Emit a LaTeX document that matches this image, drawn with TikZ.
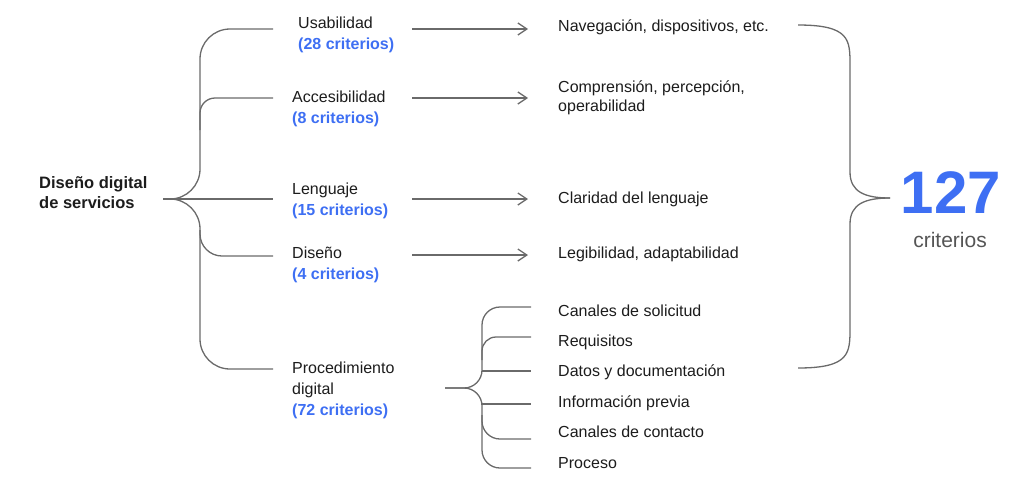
\documentclass[tikz,border=0pt]{standalone}
\usepackage{fontspec}
\setmainfont{Liberation Sans}
\usetikzlibrary{arrows.meta,positioning}
\definecolor{critblue}{HTML}{3E6FF3}
\definecolor{linegray}{HTML}{6A6A6A}
\definecolor{txtdark}{HTML}{1C1C1C}
\definecolor{txtgray}{HTML}{555555}
\tikzset{
  brace/.style={draw=linegray, line width=1.3pt},
  arr/.style={draw=linegray, line width=1.3pt, -{Straight Barb[length=9pt,width=12pt]}},
  cat/.style={anchor=west, align=left, inner sep=0pt, text=txtdark, font=\fontsize{16}{21}\selectfont},
  item/.style={anchor=west, inner sep=0pt, text=txtdark, text height=11.5pt, text depth=3.5pt, font=\fontsize{16}{19}\selectfont},
}
\newcommand{\crit}[1]{\textcolor{critblue}{\bfseries #1}}

\begin{document}
\begin{tikzpicture}[x=1pt,y=-1pt]
  \useasboundingbox (0,0) rectangle (1024,491);
  % root and categories
  \node[cat, font=\fontsize{16.5}{20}\selectfont\bfseries] (root) at (39,193) {Diseño digital\\de servicios};
  \node[cat] (usab) at (298,35) {Usabilidad\\\crit{(28 criterios)}};
  \node[cat] (acces) at (292,109) {Accesibilidad\\\crit{(8 criterios)}};
  \node[cat] (leng) at (292,201) {Lenguaje\\\crit{(15 criterios)}};
  \node[cat] (dis) at (292,265) {Diseño\\\crit{(4 criterios)}};
  \node[cat] (proc) at (292,390) {Procedimiento\\digital\\\crit{(72 criterios)}};

  % left bracket
  \coordinate (rj) at (163,199);
  \draw[brace, rounded corners=30pt] (rj) -| (200,29) -- (273,29);
  \draw[brace, rounded corners=30pt] (rj) -| (200,369) -- (273,369);
  \draw[brace] (rj) -- (273,199);
  \draw[brace, rounded corners=15pt] (200,130) |- (273,98);
  \draw[brace, rounded corners=22pt] (200,230) |- (273,256);

  % arrows and results
  \foreach \y in {29,98,199,255}
    \draw[arr] (412,\y) -- (528,\y);
  \node[item] (nav) at (558,27) {Navegación, dispositivos, etc.};
  \node[cat, font=\fontsize{16}{19}\selectfont] (comp) at (558,98) {Comprensión, percepción,\\operabilidad};
  \node[item] (clar) at (558,199) {Claridad del lenguaje};
  \node[item] (legib) at (558,254) {Legibilidad, adaptabilidad};

  % procedure sub-items
  \foreach \n/\y/\t in {s1/312/Canales de solicitud, s2/342/Requisitos,
      s3/372/Datos y documentación, s4/403/Información previa,
      s5/433/Canales de contacto, s6/464/Proceso}
    \node[item] (\n) at (558,\y) {\t};
  \coordinate (pj) at (445,388);
  \draw[brace, rounded corners=18pt] (pj) -| (482,307) -- (531,307);
  \draw[brace, rounded corners=18pt] (pj) -| (482,468) -- (531,468);
  \draw[brace, rounded corners=14pt] (482,360) |- (531,337);
  \draw[brace] (482,371) -- (531,371);
  \draw[brace] (482,404) -- (531,404);
  \draw[brace, rounded corners=18pt] (482,415) |- (531,439);

  % right brace and total
  \draw[brace] (798,25) .. controls (850,25) and (850,40) .. (850,65) -- (850,172)
    .. controls (850,192) and (865,198) .. (890,198);
  \draw[brace] (798,368) .. controls (850,368) and (850,353) .. (850,328) -- (850,224)
    .. controls (850,204) and (865,198) .. (890,198);
  \node[inner sep=0pt, text=critblue, font=\fontsize{60}{60}\selectfont\bfseries] (total) at (951,193) {127};
  \node[inner sep=0pt, text=txtgray, font=\fontsize{21}{21}\selectfont] (critlbl) at (950,240) {criterios};
\end{tikzpicture}
\end{document}
